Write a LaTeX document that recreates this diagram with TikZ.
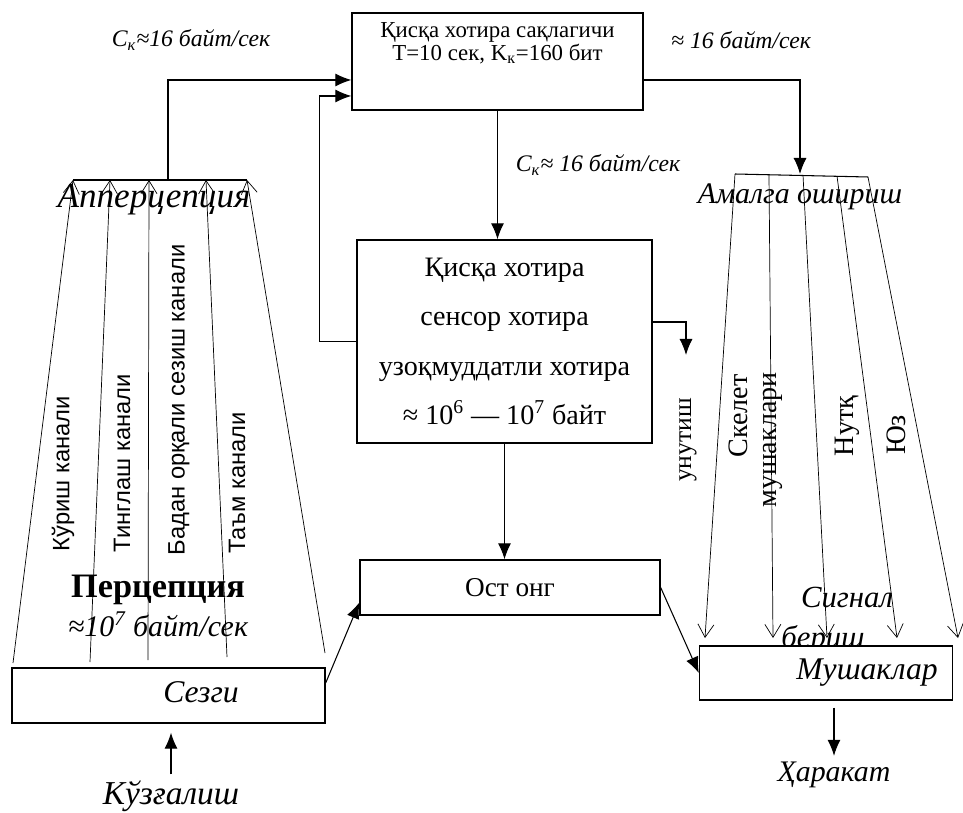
\documentclass[tikz,border=0pt]{standalone}
\usepackage{fontspec}
\setmainfont{Liberation Serif}
\setsansfont{Liberation Sans}
\usetikzlibrary{arrows.meta,positioning}

\begin{document}
\begin{tikzpicture}[x=0.02cm, y=-0.02cm,
  box/.style={draw, thick, inner sep=0pt},
  arr/.style={-{Latex[length=3.2mm, width=2.6mm]}, semithick},
  fan/.style={-{Straight Barb[length=2.6mm, width=3.2mm]}},
  rate/.style={font=\itshape\fontsize{13.5}{15}\selectfont},
  head/.style={font=\itshape\fontsize{18}{20}\selectfont},
  chan/.style={rotate=90, font=\sffamily\fontsize{13.5}{15}\selectfont},
  outc/.style={rotate=90, font=\fontsize{16}{18}\selectfont}]
\useasboundingbox (0,0) rectangle (963,813);
% memory blocks
\node[box, minimum width=5.82cm, minimum height=1.94cm] (stm) at (497.5,61.5) {};
\node[font=\fontsize{13}{12}\selectfont, align=center, below=2.5pt of stm.north] (stmtxt) {Қисқа хотира сақлагичи\\T=10 сек, K\textsubscript{к}=160 бит};
\node[box, minimum width=5.9cm, minimum height=4.06cm, align=center, font=\fontsize{16}{28}\selectfont] (mem) at (504.5,341.5) {Қисқа хотира\\сенсор хотира\\узоқмуддатли хотира\\≈ 10\textsuperscript{6} — 10\textsuperscript{7} байт};
\node[box, minimum width=6cm, minimum height=1.1cm, font=\fontsize{15.5}{17}\selectfont] (ost) at (510,587.5) {Ост онг};
\node[box, minimum width=6.26cm, minimum height=1.1cm] (sezgi) at (168.5,695.5) {};
\node[head] (sezgitxt) at (201,692) {Сезги};
\node[head, font=\itshape\fontsize{19}{20}\selectfont] (kuz) at (171,796) {Кўзғалиш};
\node[head, font=\itshape\fontsize{17}{20}\selectfont] (harakat) at (834,775) {Ҳаракат};

% rate labels
\node[rate] (ckleft) at (191,40) {C\textsubscript{к}≈16 байт/сек};
\node[rate] (ckright) at (741,40) {≈ 16 байт/сек};
\node[rate] (ckmid) at (598,165) {C\textsubscript{к}≈ 16 байт/сек};

% perception fan
\coordinate (ap1) at (73,180); \coordinate (ap2) at (110,180); \coordinate (ap3) at (149,180);
\coordinate (ap4) at (206,180); \coordinate (ap5) at (247,180); \coordinate (apup) at (168,180);
\coordinate (se1) at (13,663); \coordinate (se2) at (90,662); \coordinate (se3) at (148,660);
\coordinate (se4) at (227,657); \coordinate (se5) at (325,653);
\draw[semithick] (ap1) -- (ap5);
\draw[fan] (se1) -- (ap1);
\draw[fan] (se2) -- (ap2);
\draw[fan] (se3) -- (ap3);
\draw[fan] (se4) -- (ap4);
\draw[fan] (se5) -- (ap5);
\node[head, font=\itshape\fontsize{20}{22}\selectfont] (apperc) at (154,200) {Апперцепция};
\node[chan] (ch1) at (63,474) {Кўриш канали};
\node[chan] (ch2) at (122,463) {Тинглаш канали};
\node[chan] (ch3) at (179,400) {Бадан орқали сезиш канали};
\node[chan] (ch4) at (237,483) {Таъм канали};
\node[font=\bfseries\fontsize{19.5}{20}\selectfont] (percep) at (158,590) {Перцепция};
\node[head, font=\itshape\fontsize{17}{20}\selectfont] (percrate) at (158,624) {≈10\textsuperscript{7} байт/сек};

% action fan
\coordinate (am1) at (735,174); \coordinate (am2) at (769,175); \coordinate (am3) at (803,175);
\coordinate (am4) at (837,176); \coordinate (am5) at (868,177); \coordinate (amin) at (800,174);
\coordinate (mu1) at (705,638); \coordinate (mu2) at (773,638); \coordinate (mu3) at (827,638);
\coordinate (mu4) at (897,638); \coordinate (mu5) at (958,638);
\draw[semithick] (am1) -- (am5);
\draw[fan] (am1) -- (mu1);
\draw[fan] (am2) -- (mu2);
\draw[fan] (am3) -- (mu3);
\draw[fan] (am4) -- (mu4);
\draw[fan] (am5) -- (mu5);
\node[head, font=\itshape\fontsize{17}{20}\selectfont] (amalga) at (800,197) {Амалга ошириш};
\node[outc, font=\fontsize{14.5}{16}\selectfont] (unut) at (688,440) {унутиш};
\node[outc] (skel) at (738,416) {Скелет};
\node[outc] (mush) at (773,440) {мушаклари};
\node[outc] (nutq) at (847,426) {Нутқ};
\node[outc] (yuz) at (896,435) {Юз};
\node[head, font=\itshape\fontsize{17.5}{20}\selectfont] (signal) at (847,598) {Сигнал};
\node[head, font=\itshape\fontsize{17.5}{20}\selectfont] (berish) at (823,640) {бериш};
\node[box, fill=white, minimum width=5.06cm, minimum height=1.08cm] (musc) at (826,673) {};
\node[head] (musctxt) at (867,673) {Мушаклар};

% connectors
\coordinate (forget) at (686,355);
\draw[arr] (apup) |- ([yshift=-0.37cm]stm.west);
\draw[arr] (mem.west) -- ++(-37,0) |- ([yshift=-0.69cm]stm.west);
\draw[arr] ([yshift=-0.37cm]stm.east) -| (amin);
\draw[arr] (stm.south) -- (stm.south |- mem.north);
\draw[arr] ([yshift=0.39cm]mem.east) -| (forget);
\draw[arr] (mem.south) -- (mem.south |- ost.north);
\draw[arr] ([yshift=0.25cm]sezgi.east) -- ([yshift=-0.3cm]ost.west);
\draw[arr] (ost.east) -- (musc.west);
\draw[arr, shorten <=0.14cm] (musc.south -| harakat) -- (harakat.north);
\draw[arr, shorten >=0.18cm] (kuz.north) -- (kuz.north |- sezgi.south);
\end{tikzpicture}
\end{document}
